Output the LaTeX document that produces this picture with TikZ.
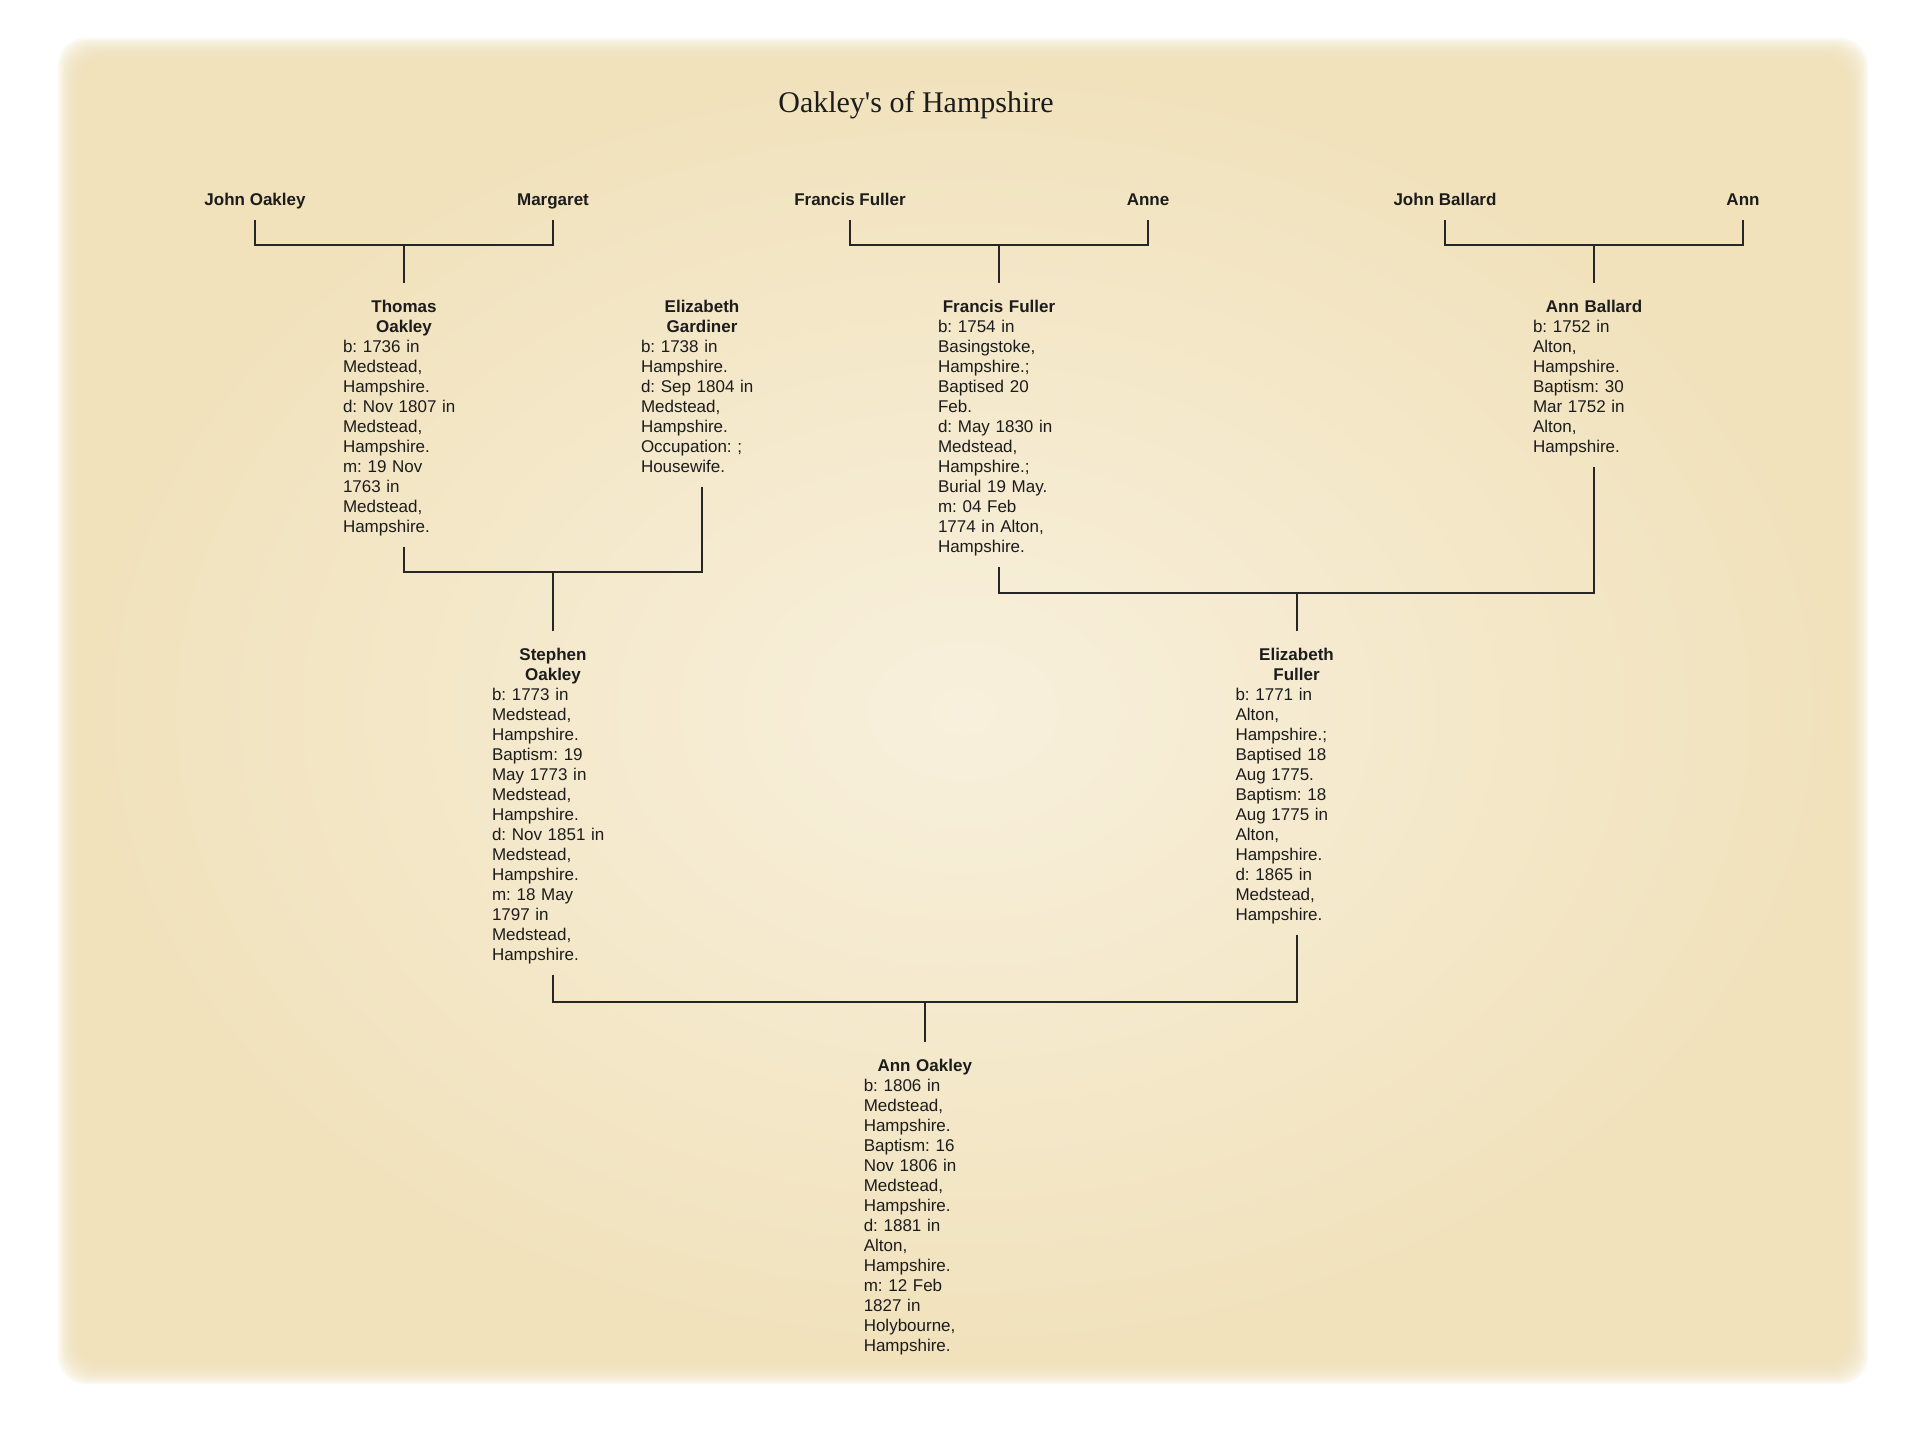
\documentclass[tikz,border=0pt]{standalone}
\usepackage{fontspec}
\setmainfont{Liberation Sans}
\newfontfamily\titlefont{Liberation Serif}
\frenchspacing
\definecolor{paperin}{HTML}{F8F0DC}
\definecolor{paperedge}{HTML}{F1E2BC}
\definecolor{inkcol}{HTML}{1C1C1C}
\definecolor{linecol}{HTML}{262626}
\begin{document}
\begin{tikzpicture}[x=1pt,y=-1pt,
  conn/.style={draw=linecol, line width=2pt, line join=miter},
  parentname/.style={font=\fontsize{17}{20}\selectfont\bfseries, text=inkcol, inner sep=0pt, text height=12pt, text depth=14pt, anchor=base},
  person/.style={font=\fontsize{17}{20}\selectfont\frenchspacing, text=inkcol, text width=122pt, align=left, inner xsep=0pt, inner ysep=9pt, anchor=north},
  titlestyle/.style={font=\titlefont\fontsize{30}{34}\selectfont, text=inkcol, inner sep=0pt, anchor=base}
]
\useasboundingbox (0,0) rectangle (1920,1439);
\fill[white] (0,0) rectangle (1920,1439);
% paper with soft edges
\foreach \i in {0,...,11} {
  \fill[paperedge, opacity=0.22, rounded corners=28pt] ({58+2*\i},{38+2*\i}) rectangle ({1868-2*\i},{1384-2*\i});
}
\shade[inner color=paperin, outer color=paperedge, rounded corners=16pt] (82,62) rectangle (1844,1360);

% title
\node[titlestyle] (title) at (916,113) {Oakley's of Hampshire};

% top-row parents
\node[parentname] (johno) at (255,206) {John Oakley};
\node[parentname] (margaret) at (553,206) {Margaret};
\node[parentname] (francisp) at (850,206) {Francis Fuller};
\node[parentname] (anne) at (1148,206) {Anne};
\node[parentname] (johnb) at (1445,206) {John Ballard};
\node[parentname] (ann) at (1743,206) {Ann};

\coordinate (j1a) at (404,245);
\coordinate (j1b) at (999,245);
\coordinate (j1c) at (1594,245);

% second row
\node[person] (thomas) at (404,283) {{\centering\bfseries\rule{0pt}{20pt}Thomas\\Oakley\par}b: 1736 in\\Medstead,\\Hampshire.\\d: Nov 1807 in\\Medstead,\\Hampshire.\\m: 19 Nov\\1763 in\\Medstead,\\Hampshire.\strut};
\node[person] (gardiner) at (702,283) {{\centering\bfseries\rule{0pt}{20pt}Elizabeth\\Gardiner\par}b: 1738 in\\Hampshire.\\d: Sep 1804 in\\Medstead,\\Hampshire.\\Occupation: ;\\Housewife.\strut};
\node[person] (francis) at (999,283) {{\centering\bfseries\rule{0pt}{20pt}Francis Fuller\par}b: 1754 in\\Basingstoke,\\Hampshire.;\\Baptised 20\\Feb.\\d: May 1830 in\\Medstead,\\Hampshire.;\\Burial 19 May.\\m: 04 Feb\\1774 in Alton,\\Hampshire.\strut};
\node[person] (annb) at (1594,283) {{\centering\bfseries\rule{0pt}{20pt}Ann Ballard\par}b: 1752 in\\Alton,\\Hampshire.\\Baptism: 30\\Mar 1752 in\\Alton,\\Hampshire.\strut};

\coordinate (j2a) at (553,572);
\coordinate (j2b) at (1296.5,593);

% third row
\node[person] (stephen) at (553,631) {{\centering\bfseries\rule{0pt}{20pt}Stephen\\Oakley\par}b: 1773 in\\Medstead,\\Hampshire.\\Baptism: 19\\May 1773 in\\Medstead,\\Hampshire.\\d: Nov 1851 in\\Medstead,\\Hampshire.\\m: 18 May\\1797 in\\Medstead,\\Hampshire.\strut};
\node[person] (elizf) at (1296.5,631) {{\centering\bfseries\rule{0pt}{20pt}Elizabeth\\Fuller\par}b: 1771 in\\Alton,\\Hampshire.;\\Baptised 18\\Aug 1775.\\Baptism: 18\\Aug 1775 in\\Alton,\\Hampshire.\\d: 1865 in\\Medstead,\\Hampshire.\strut};

\coordinate (j3) at (924.75,1002);

% fourth row
\node[person] (anno) at (924.75,1042) {{\centering\bfseries\rule{0pt}{20pt}Ann Oakley\par}b: 1806 in\\Medstead,\\Hampshire.\\Baptism: 16\\Nov 1806 in\\Medstead,\\Hampshire.\\d: 1881 in\\Alton,\\Hampshire.\\m: 12 Feb\\1827 in\\Holybourne,\\Hampshire.\strut};

% connectors
\draw[conn] (johno.south) |- (j1a) -| (margaret.south);
\draw[conn] (j1a) -- (thomas.north);
\draw[conn] (francisp.south) |- (j1b) -| (anne.south);
\draw[conn] (j1b) -- (francis.north);
\draw[conn] (johnb.south) |- (j1c) -| (ann.south);
\draw[conn] (j1c) -- (annb.north);

\draw[conn] (thomas.south) |- (j2a) -| (gardiner.south);
\draw[conn] (j2a) -- (stephen.north);
\draw[conn] (francis.south) |- (j2b) -| (annb.south);
\draw[conn] (j2b) -- (elizf.north);

\draw[conn] (stephen.south) |- (j3) -| (elizf.south);
\draw[conn] (j3) -- (anno.north);
\end{tikzpicture}
\end{document}
